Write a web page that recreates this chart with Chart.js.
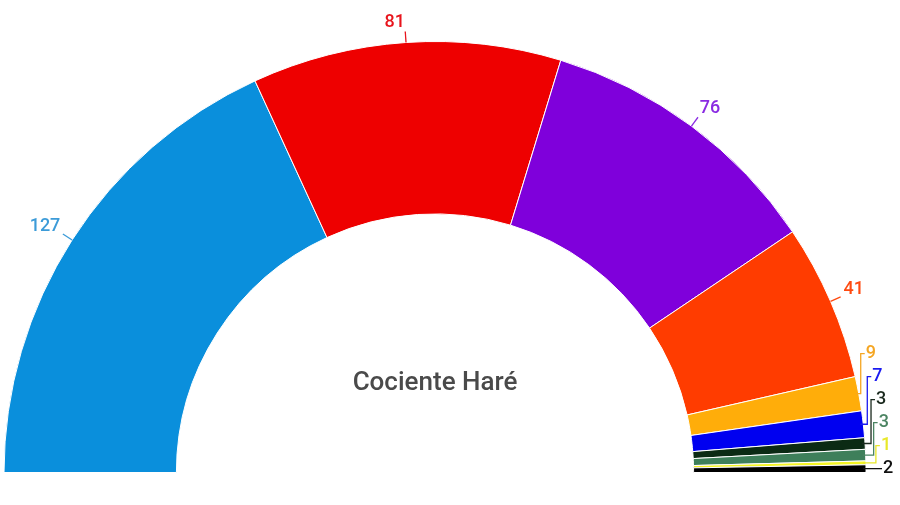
<!DOCTYPE html>
<html>
<head>
<meta charset="utf-8">
<script src="https://cdn.jsdelivr.net/npm/chart.js@4/dist/chart.umd.min.js"></script>
<style>
  html, body { margin: 0; padding: 0; background: #fff; }
  #wrap { width: 900px; height: 505px; }
</style>
</head>
<body>
<div id="wrap"><canvas id="seatChart" width="900" height="505"></canvas></div>
<script>
// Seats per party - Cociente Haré
var parties = ['A', 'B', 'C', 'D', 'E', 'F', 'G', 'H', 'I', 'J'];
var seats = [127, 81, 76, 41, 9, 7, 3, 3, 1, 2];
var colors = ['#0A8FDC', '#EE0000', '#7F00DB', '#FF3C00', '#FFAD0A', '#0000F0', '#0B2A14', '#3E7F5A', '#F5F523', '#000000'];
var labelColors = ['#3C9BD8', '#E8141C', '#8A2BE2', '#FF4A10', '#F5A623', '#1A1AF0', '#1B2A1F', '#4B8462', '#E8E82A', '#111111'];
var centerTitle = 'Cociente Haré';

// draws the seat numbers with their leader lines, and the centre title
var seatLabels = {
    id: 'seatLabels',
    afterDatasetsDraw: function (chart) {
        var ctx = chart.ctx;
        var arcs = chart.getDatasetMeta(0).data;
        var small = [];
        ctx.save();
        ctx.font = '500 18px Roboto';
        ctx.lineWidth = 1.3;
        arcs.forEach(function (arc, i) {
            var p = arc.getProps(['x', 'y', 'startAngle', 'endAngle', 'outerRadius'], true);
            var mid = (p.startAngle + p.endAngle) / 2;
            var c = Math.cos(mid), s = Math.sin(mid);
            var px = p.x + c * p.outerRadius, py = p.y + s * p.outerRadius;
            if (seats[i] < 10) {
                small.push({i: i, px: px, py: py});
                return;
            }
            ctx.strokeStyle = labelColors[i];
            ctx.beginPath();
            ctx.moveTo(px, py);
            ctx.lineTo(p.x + c * (p.outerRadius + 11), p.y + s * (p.outerRadius + 11));
            ctx.stroke();
            var tx = p.x + c * (p.outerRadius + 14);
            var ty = p.y + s * (p.outerRadius + 14) - 6;
            ctx.fillStyle = labelColors[i];
            ctx.textAlign = c < 0 ? 'right' : 'left';
            ctx.textBaseline = 'middle';
            ctx.fillText(String(seats[i]), tx, ty);
        });

        // stacked labels for the small parties on the right
        var n = small.length;
        var bottomY = small[n - 1].py;
        small.forEach(function (sm, k) {
            var ly = bottomY - (n - 1 - k) * 23;
            var vx = sm.px + 2 + k * 2;
            var lx = vx + 5;
            ctx.strokeStyle = labelColors[sm.i];
            ctx.beginPath();
            ctx.moveTo(sm.px - 3, sm.py);
            ctx.lineTo(vx, sm.py);
            ctx.lineTo(vx, ly);
            ctx.lineTo(lx - 1, ly);
            ctx.stroke();
            ctx.fillStyle = labelColors[sm.i];
            ctx.textAlign = 'left';
            ctx.textBaseline = 'middle';
            ctx.fillText(String(seats[sm.i]), lx, ly);
        });

        var a0 = arcs[0];
        ctx.font = '500 26px Roboto';
        ctx.fillStyle = '#4A4A4A';
        ctx.textAlign = 'center';
        ctx.textBaseline = 'middle';
        ctx.fillText(centerTitle, a0.x, a0.y - 89);
        ctx.restore();
    }
};

var ctx = document.getElementById('seatChart').getContext('2d');
var seatChart = new Chart(ctx, {
    type: 'doughnut',
    data: {
        labels: parties,
        datasets: [{
            data: seats,
            backgroundColor: colors,
            borderColor: '#FFFFFF',
            borderWidth: 1
        }]
    },
    options: {
        responsive: false,
        animation: false,
        rotation: -90,
        circumference: 180,
        cutout: '60%',
        layout: {padding: {left: 3, right: 33, top: 41, bottom: 32}},
        plugins: {
            legend: {display: false},
            tooltip: {enabled: false}
        }
    },
    plugins: [seatLabels]
});
</script>
</body>
</html>
